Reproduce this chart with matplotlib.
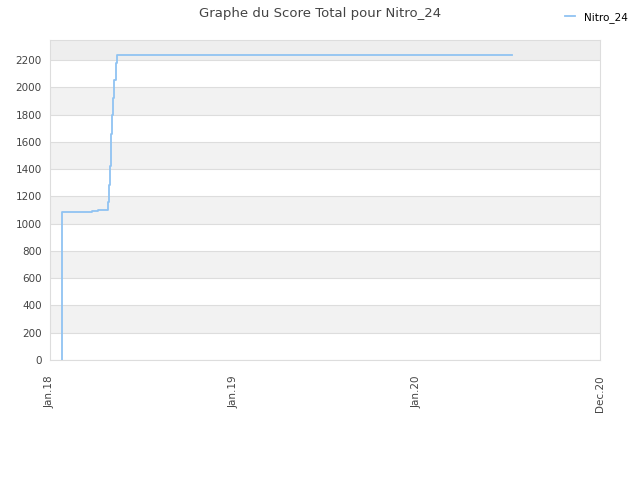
import matplotlib
matplotlib.use("Agg")
import matplotlib.pyplot as plt
from datetime import datetime

# score history
dates = ["2018-01-25", "2018-01-25", "2018-03-25", "2018-04-07", "2018-04-27",
         "2018-04-29", "2018-04-30", "2018-05-02", "2018-05-03", "2018-05-05",
         "2018-05-07", "2018-05-09", "2018-05-12", "2018-05-14", "2020-07-09"]
scores = [0, 1085, 1090, 1100, 1160, 1285, 1420, 1540, 1660, 1795,
          1920, 2055, 2175, 2240, 2240]

tick_dates = ["2018-01-01", "2019-01-01", "2020-01-01", "2020-12-31"]
tick_labels = ["Jan.18", "Jan.19", "Jan.20", "Dec.20"]
yticks = list(range(0, 2201, 200))

x = [datetime.strptime(d, "%Y-%m-%d") for d in dates]
tx = [datetime.strptime(d, "%Y-%m-%d") for d in tick_dates]

fig = plt.figure(figsize=(6.4, 4.8), dpi=100)
ax = fig.add_axes([0.078, 0.25, 0.8595, 0.6667])

ymax = 2347
# alternating bands
for k in range(len(yticks)):
    if k % 2 == 1:
        ax.axhspan(yticks[k], yticks[k] + 200, color="#f2f2f2", zorder=0, lw=0)
ax.axhspan(2200, ymax, color="#eeeeee", zorder=0, lw=0)

ax.plot(x, scores, drawstyle="steps-post", color="#90c3f2", lw=1.3, label="Nitro_24", zorder=3)

ax.set_xlim(tx[0], tx[-1])
ax.set_ylim(0, ymax)
ax.set_yticks(yticks)
ax.set_xticks(tx)
ax.set_xticklabels(tick_labels, rotation=90)
ax.yaxis.grid(True, color="#dddddd", lw=0.8, zorder=1)
ax.set_axisbelow(True)
ax.tick_params(length=0, labelsize=7.5, colors="#444444")
ax.tick_params(axis="x", pad=11)
ax.tick_params(axis="y", pad=6)
for s in ax.spines.values():
    s.set_color("#dddddd")

fig.suptitle("Graphe du Score Total pour Nitro_24", y=0.985, fontsize=9.5, color="#444444")
fig.legend(loc="upper right", bbox_to_anchor=(0.995, 0.995), frameon=False, fontsize=7.5,
           handlelength=1.0)

fig.savefig("out.png", dpi=100)
